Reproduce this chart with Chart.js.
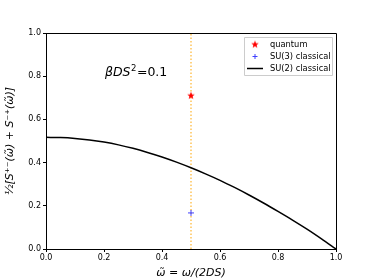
<!DOCTYPE html>
<html>
<head>
<meta charset="utf-8">
<script src="https://cdn.jsdelivr.net/npm/chart.js@4/dist/chart.umd.min.js"></script>
<style>
  html, body { margin: 0; padding: 0; background: #fff; }
  #wrap { width: 374px; height: 280px; }
</style>
</head>
<body>
<div id="wrap"><canvas id="chart" width="374" height="280"></canvas></div>
<script>
// data
const omega = [0, 0.05, 0.1, 0.15, 0.2, 0.25, 0.3, 0.35, 0.4, 0.45, 0.5,
               0.55, 0.6, 0.65, 0.7, 0.75, 0.8, 0.85, 0.9, 0.95, 1.0];
const su2Classical = [0.517, 0.516, 0.512, 0.505, 0.495, 0.482, 0.466, 0.447, 0.426, 0.402, 0.376,
                      0.348, 0.318, 0.285, 0.25, 0.213, 0.174, 0.134, 0.092, 0.047, 0.0];
const quantumX = [0.5];
const quantumY = [0.71];
const su3X = [0.5];
const su3Y = [0.167];
const markerX = [0.5, 0.5];
const markerY = [0, 1];
const tickValues = [0, 0.2, 0.4, 0.6, 0.8, 1.0];

function pairs(xs, ys) {
    return xs.map((x, i) => ({ x: x, y: ys[i] }));
}

// filled star like matplotlib's '*' marker
function starImage(color, r) {
    const c = document.createElement('canvas');
    c.width = c.height = r * 2 + 2;
    const g = c.getContext('2d');
    g.fillStyle = color;
    g.beginPath();
    for (let i = 0; i < 10; i++) {
        const rad = (i % 2 === 0) ? r : r * 0.42;
        const a = -Math.PI / 2 + i * Math.PI / 5;
        const px = r + 1 + rad * Math.cos(a);
        const py = r + 1 + rad * Math.sin(a);
        if (i === 0) g.moveTo(px, py); else g.lineTo(px, py);
    }
    g.closePath();
    g.fill();
    return c;
}
const star = starImage('#ff0000', 4);

// frame, legend box and annotation
const overlay = {
    id: 'overlay',
    afterDatasetsDraw(chart) {
        const ctx = chart.ctx;
        const a = chart.chartArea;
        const xs = chart.scales.x, ys = chart.scales.y;
        ctx.save();
        ctx.strokeStyle = '#000';
        ctx.lineWidth = 1;
        ctx.beginPath();
        ctx.moveTo(a.left, a.top + 0.5);
        ctx.lineTo(a.right + 0.5, a.top + 0.5);
        ctx.lineTo(a.right + 0.5, a.bottom);
        ctx.stroke();

        // βDS²=0.1
        let x = xs.getPixelForValue(0.2) + 1;
        const y = ys.getPixelForValue(0.82) + 4;
        ctx.fillStyle = '#000';
        ctx.textAlign = 'left';
        ctx.textBaseline = 'alphabetic';
        ctx.font = 'italic 12.5px "DejaVu Sans"';
        ctx.fillText('βDS', x, y);
        x += ctx.measureText('βDS').width + 0.5;
        ctx.font = '8.5px "DejaVu Sans"';
        ctx.fillText('2', x, y - 5);
        x += ctx.measureText('2').width + 0.5;
        ctx.font = '12.5px "DejaVu Sans"';
        ctx.fillText('=0.1', x, y);

        // legend
        const bx = 244, by = 37, bw = 88, bh = 38;
        ctx.fillStyle = 'rgba(255,255,255,0.8)';
        ctx.strokeStyle = '#cccccc';
        ctx.beginPath();
        ctx.rect(bx + 0.5, by + 0.5, bw, bh);
        ctx.fill();
        ctx.stroke();
        const items = chart.data.datasets.filter(d => d.label);
        ctx.font = '8.3px "DejaVu Sans"';
        ctx.textBaseline = 'middle';
        items.forEach((d, i) => {
            const ly = by + 7.5 + i * 12;
            const cx = bx + 11;
            if (d.showLine) {
                ctx.strokeStyle = d.borderColor;
                ctx.lineWidth = d.borderWidth;
                ctx.beginPath();
                ctx.moveTo(bx + 3, ly);
                ctx.lineTo(bx + 19, ly);
                ctx.stroke();
            } else if (d.pointStyle === 'cross') {
                ctx.strokeStyle = d.borderColor;
                ctx.lineWidth = 1;
                ctx.beginPath();
                ctx.moveTo(cx - 2.5, ly); ctx.lineTo(cx + 2.5, ly);
                ctx.moveTo(cx, ly - 2.5); ctx.lineTo(cx, ly + 2.5);
                ctx.stroke();
            } else {
                ctx.drawImage(star, cx - star.width / 2, ly - star.height / 2);
            }
            ctx.fillStyle = '#000';
            ctx.fillText(d.label, bx + 26, ly);
        });
        ctx.restore();
    }
};

new Chart(document.getElementById('chart'), {
    type: 'scatter',
    data: {
        datasets: [
            {
                label: 'quantum',
                data: pairs(quantumX, quantumY),
                pointStyle: star,
                showLine: false,
                borderColor: '#ff0000',
                backgroundColor: '#ff0000'
            },
            {
                label: 'SU(3) classical',
                data: pairs(su3X, su3Y),
                pointStyle: 'cross',
                pointRadius: 3,
                pointBorderWidth: 1,
                showLine: false,
                borderColor: '#4040ff',
                backgroundColor: '#4040ff'
            },
            {
                label: 'SU(2) classical',
                data: pairs(omega, su2Classical),
                showLine: true,
                pointRadius: 0,
                borderColor: '#000000',
                borderWidth: 1.5,
                tension: 0.3
            },
            {
                data: pairs(markerX, markerY),
                showLine: true,
                pointRadius: 0,
                borderColor: '#ffa500',
                borderWidth: 1,
                borderDash: [1.5, 2]
            }
        ]
    },
    options: {
        responsive: false,
        animation: false,
        layout: { padding: { top: 33, right: 38, left: 0, bottom: 0 } },
        plugins: {
            legend: { display: false },
            tooltip: { enabled: false }
        },
        scales: {
            x: {
                type: 'linear',
                min: 0, max: 1,
                afterBuildTicks: s => { s.ticks = tickValues.map(v => ({ value: v })); },
                afterFit: s => { s.height = 31; },
                grid: { display: true, drawOnChartArea: false, drawTicks: true, tickLength: 3, color: '#000' },
                border: { display: true, color: '#000', width: 1 },
                ticks: {
                    color: '#000', padding: 1, maxRotation: 0,
                    font: { family: 'DejaVu Sans', size: 8 },
                    callback: v => v.toFixed(1)
                },
                title: {
                    display: true,
                    text: 'ω̃ = ω/(2DS)',
                    color: '#000',
                    padding: { top: 0, bottom: 0 },
                    font: { family: 'DejaVu Sans', size: 11, style: 'italic' }
                }
            },
            y: {
                type: 'linear',
                min: 0, max: 1,
                afterBuildTicks: s => { s.ticks = tickValues.map(v => ({ value: v })); },
                afterFit: s => { s.width = 46; },
                grid: { display: true, drawOnChartArea: false, drawTicks: true, tickLength: 3, color: '#000' },
                border: { display: true, color: '#000', width: 1 },
                ticks: {
                    color: '#000', padding: 2,
                    font: { family: 'DejaVu Sans', size: 8 },
                    callback: v => v.toFixed(1)
                },
                title: {
                    display: true,
                    text: '½[S⁺⁻(ω̃) + S⁻⁺(ω̃)]',
                    color: '#000',
                    padding: { top: 4, bottom: 0 },
                    font: { family: 'DejaVu Sans', size: 11, style: 'italic' }
                }
            }
        }
    },
    plugins: [overlay]
});
</script>
</body>
</html>
